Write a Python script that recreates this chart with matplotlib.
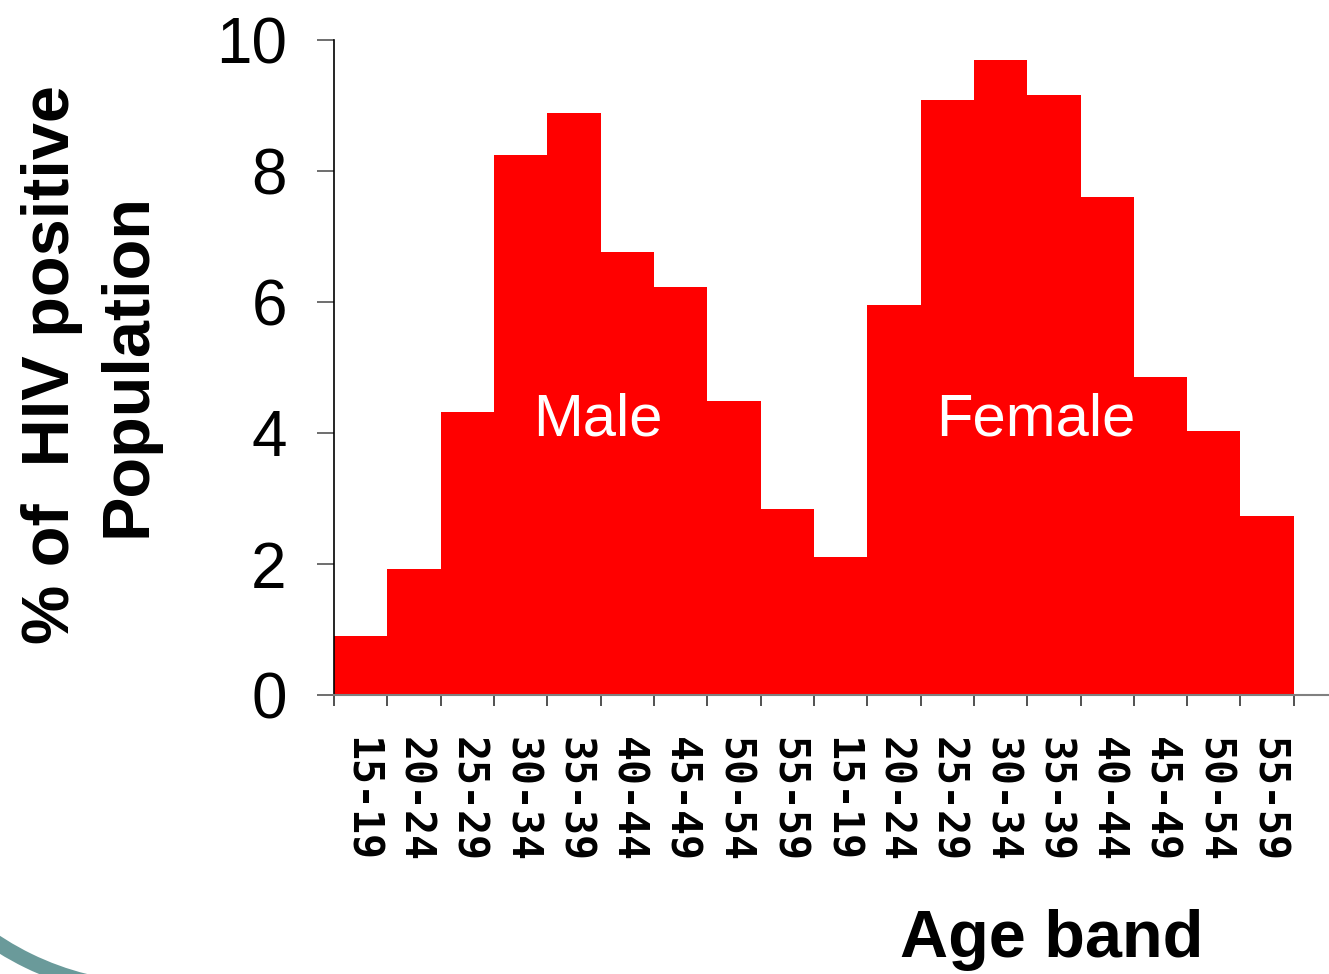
import matplotlib
matplotlib.use('Agg')
import matplotlib.pyplot as plt
from matplotlib.patches import Arc
import numpy as np

# Datos
bandas = ['15-19', '20-24', '25-29', '30-34', '35-39', '40-44', '45-49', '50-54', '55-59']
hombres = [0.9, 1.92, 4.32, 8.24, 8.89, 6.76, 6.23, 4.49, 2.84]
mujeres = [2.11, 5.95, 9.08, 9.69, 9.16, 7.60, 4.85, 4.03, 2.73]

etiquetas = bandas + bandas
valores = hombres + mujeres

plt.rcParams['font.family'] = ['Liberation Sans', 'DejaVu Sans']

fig = plt.figure(figsize=(13.29, 9.74), dpi=100)

# arco decorativo de la plantilla
bg = fig.add_axes([0, 0, 1, 1], zorder=-1)
bg.set_xlim(0, 1329)
bg.set_ylim(974, 0)
bg.axis('off')
bg.add_patch(Arc((155, 701), 578, 578, theta1=92, theta2=140,
                 color='#6a9a9a', lw=11))

ax = fig.add_axes([334/1329, 1-695/974, 995/1329, 655/974])
x = np.arange(len(valores))
ax.bar(x, valores, width=1.0, align='edge', color='#ff0000', edgecolor='none')

ax.set_xlim(0, 18.66)
ax.set_ylim(0, 10)
ax.set_yticks([0, 2, 4, 6, 8, 10])
ax.tick_params(axis='y', labelsize=46, length=12, width=1.2, pad=22, color='#555555')

ax.set_xticks(np.arange(0, 19), minor=False)
ax.set_xticklabels([])
ax.set_xticks(x + 0.5, minor=True)
ax.set_xticklabels(etiquetas, minor=True, rotation=-90,
                   family='DejaVu Sans Mono', fontweight='bold', fontsize=30)
ax.tick_params(axis='x', which='major', length=8, width=1.2, color='#333333')
ax.tick_params(axis='x', which='minor', length=0, pad=30)

for s in ['top', 'right']:
    ax.spines[s].set_visible(False)
ax.spines['left'].set_color('black')
ax.spines['left'].set_linewidth(1.2)
ax.spines['bottom'].set_color('#808080')
ax.spines['bottom'].set_linewidth(1.5)

ax.text(4.95, 4.2, 'Male', color='white', fontsize=43, ha='center', va='center')
ax.text(13.16, 4.2, 'Female', color='white', fontsize=43, ha='center', va='center')

fig.text(90/1329, 1-365/974, '% of  HIV positive\nPopulation', rotation=90,
         fontsize=48, fontweight='bold', ha='center', va='center',
         multialignment='center', linespacing=1.3)
fig.text(1052/1329, 1-940/974, 'Age band', fontsize=48, fontweight='bold',
         ha='center', va='center')

fig.savefig('out.png', dpi=100)
